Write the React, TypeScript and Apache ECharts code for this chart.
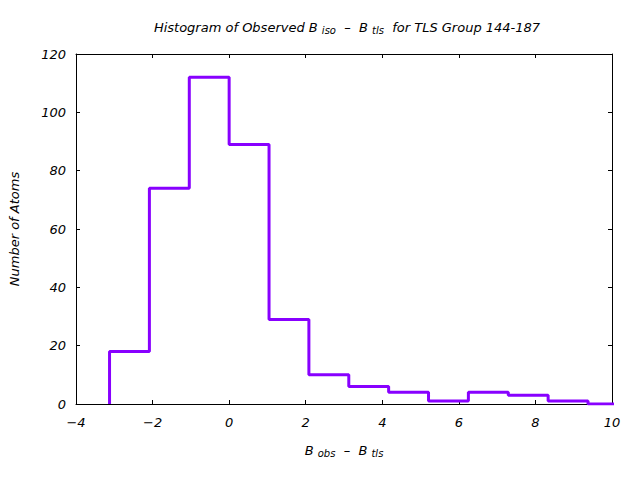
import React, { useEffect, useRef } from "react";
import * as echarts from "echarts";

const binEdges = [-3.124, -2.083, -1.041, 0.0, 1.042, 2.083, 3.125, 4.166, 5.208, 6.249, 7.291, 8.332, 9.374, 10.415];
const binCounts = [18, 74, 112, 89, 29, 10, 6, 4, 1, 4, 3, 1, 0];
const xTicks = [-4, -2, 0, 2, 4, 6, 8, 10];
const yTicks = [0, 20, 40, 60, 80, 100, 120];

const FONT = "DejaVu Sans";

export default function App() {
  const ref = useRef<HTMLDivElement>(null);
  useEffect(() => {
    if (!ref.current) return;
    const chart = echarts.init(ref.current, null, { renderer: "svg" });
    const pts: [number, number][] = [[binEdges[0], 0]];
    binCounts.forEach((c, i) => pts.push([binEdges[i], c]));
    pts.push([binEdges[binEdges.length - 1], 0]);
    const axisLine = { show: true, onZero: false, lineStyle: { color: "#000", width: 1 } };
    const tick = { show: true, inside: true, length: 4, lineStyle: { color: "#000" } };
    const lbl = { fontFamily: FONT, fontStyle: "italic" as const, fontWeight: "normal" as const, fontSize: 13, color: "#000" };
    chart.setOption({
      animation: false,
      backgroundColor: "#fff",
      title: {
        text: "{t|Histogram of Observed B }{s|iso}{t|  –  B }{s|tls}{t|  for TLS Group 144-187}",
        left: 342,
        textAlign: "center",
        top: 14,
        textStyle: {
          fontWeight: "normal",
          rich: {
            t: { ...lbl },
            s: { ...lbl, fontSize: 10, padding: [6, 0, 0, 0] },
          },
        },
      },
      grid: { left: 76, right: 28, top: 54, bottom: 76, containLabel: false },
      xAxis: [
        {
          type: "value",
          min: -4,
          max: 10,
          interval: 2,
          position: "bottom",
          axisLine,
          axisTick: tick,
          splitLine: { show: false },
          axisLabel: { ...lbl, margin: 12, formatter: (v: number) => (xTicks.includes(v) ? String(v).replace("-", "−") : "") },
          name: "{t|B }{s|obs}{t|  –  B }{s|tls}",
          nameLocation: "middle",
          nameGap: 38,
          nameTextStyle: {
            rich: {
              t: { ...lbl },
              s: { ...lbl, fontSize: 10, padding: [6, 0, 0, 0] },
            },
          },
        },
        {
          type: "value",
          min: -4,
          max: 10,
          interval: 2,
          position: "top",
          axisLine,
          axisTick: tick,
          axisLabel: { show: false },
          splitLine: { show: false },
        },
      ],
      yAxis: [
        {
          type: "value",
          min: 0,
          max: 120,
          interval: 20,
          position: "left",
          axisLine,
          axisTick: tick,
          splitLine: { show: false },
          axisLabel: { ...lbl, margin: 10, formatter: (v: number) => (yTicks.includes(v) ? String(v) : "") },
          name: "Number of Atoms",
          nameLocation: "middle",
          nameGap: 55,
          nameRotate: 90,
          nameTextStyle: { ...lbl },
        },
        {
          type: "value",
          min: 0,
          max: 120,
          interval: 20,
          position: "right",
          axisLine,
          axisTick: tick,
          axisLabel: { show: false },
          splitLine: { show: false },
        },
      ],
      series: [
        {
          type: "line",
          step: "end",
          data: pts,
          symbol: "none",
          clip: true,
          lineStyle: { color: "#8800ff", width: 3 },
          z: 1,
        },
      ],
    });
    return () => chart.dispose();
  }, []);
  return <div ref={ref} style={{ width: 640, height: 480, position: "absolute", left: 0, top: 0 }} />;
}
